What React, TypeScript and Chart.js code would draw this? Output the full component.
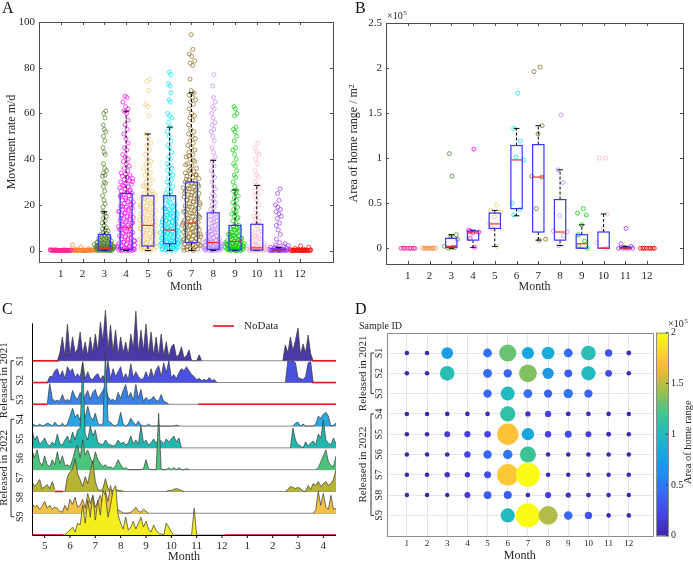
import React, { useEffect, useRef } from 'react';
import { Chart, registerables } from 'chart.js';
Chart.register(...registerables);

const FONT = "'Liberation Serif', 'Times New Roman', serif";
Chart.defaults.font.family = FONT;
Chart.defaults.color = '#262626';

const MONTHS = [1, 2, 3, 4, 5, 6, 7, 8, 9, 10, 11, 12];
const MONTH_COLORS = ['#ff1f8f', '#ff7f27', '#4e7d22', '#ff00ff', '#f7c46c', '#00e5ff', '#8c6a1f', '#c587ff', '#00d000', '#ffb3c6', '#9b30ff', '#ff0000'];

// ---------- Panel A: movement rate (m/d) per month ----------
const A_M1 = [0, 0, 0, 0, 0, 0, 0.1, 0.1, 0.1, 0.2, 0.2, 0.2, 0.3, 0.3, 0.4, 0.1, 0, 0.2, 0.1, 0, 0.3, 0.2, 0, 0.1, 0, 0.1, 0.2, 0, 0.1, 0, 0.2, 0.1, 0, 0.3, 0.1, 0];
const A_M2 = [0, 0, 0, 0.1, 0.1, 0.2, 0.2, 0.3, 0.3, 0.5, 0.8, 1.5, 2.5, 0, 0.1, 0.2, 0.1, 0, 0.4, 0.2, 0.1, 0, 0.1, 0.2, 0, 0.1, 0, 0.2, 0.1, 0, 0.3, 0];
const A_M3 = [0, 0, 0, 0.1, 0.1, 0.2, 0.2, 0.3, 0.3, 0.4, 0.4, 0.5, 0.5, 0.6, 0.7, 0.8, 0.9, 1, 1, 1.1, 1.2, 1.3, 1.4, 1.5, 1.6, 1.7, 1.8, 1.9, 2, 2.1, 2.2, 2.4, 2.5, 2.6, 2.8, 3, 3.1, 3.3, 3.5, 3.7, 3.9, 4.1, 4.3, 4.5, 4.8, 5, 5.3, 5.6, 6, 6.3, 6.7, 7, 7.5, 8, 8.5, 9, 9.5, 10, 11, 12, 13, 14, 15, 16, 17, 0.05, 0.15, 0.25, 0.35, 0.45, 0.65, 0.85, 1.05, 1.25, 1.45, 1.65, 1.85, 2.3, 2.7, 3.2, 3.6, 4.2, 4.7, 5.5, 6.5, 19, 20.5, 22, 24, 26, 28, 29.5, 30, 32.5, 33, 34, 35, 36, 38, 42, 43, 45, 48, 50, 52, 53, 55, 58, 60, 61];
const A_M4 = [0, 0, 0, 0.1, 0.2, 0.3, 0.4, 0.5, 0.6, 0.8, 1, 1.2, 1.5, 1.8, 2, 2.3, 2.6, 3, 3.4, 3.8, 4.2, 4.6, 5, 5.5, 6, 6.5, 7, 7.5, 8, 8.5, 9, 9.5, 10, 10.5, 11, 11.5, 12, 12.5, 13, 13.5, 14, 14.5, 15, 15.5, 16, 16.5, 17, 17.5, 18, 18.5, 19, 19.5, 20, 20.5, 21, 21.5, 22, 22.5, 23, 23.5, 24, 24.5, 25, 25.5, 26, 26.5, 27, 27.5, 28, 28.5, 29, 29.5, 30, 30.5, 31, 31.5, 32, 32.5, 33, 33.5, 34, 35, 36, 37, 38, 39, 40, 41, 42, 44, 45, 47, 49, 51, 53, 55, 57, 60, 61, 62, 63, 65, 67, 67.5, 0.7, 1.3, 2.1, 2.8, 3.6, 4.4, 5.2, 6.3, 7.2, 8.2, 9.2, 10.2, 11.2, 12.2, 13.2, 14.2, 15.2, 16.2, 17.2, 18.2, 19.2, 20.2, 22.2, 24.2, 26.2, 28.2, 30.2, 32.2];
const A_M5 = [0, 0.2, 0.4, 0.6, 0.8, 1, 1.3, 1.6, 2, 2.3, 2.6, 3, 3.4, 3.8, 4.2, 4.6, 5, 5.5, 6, 6.5, 7, 7.5, 8, 8.5, 9, 9.5, 10, 10.5, 11, 11.5, 12, 12.5, 13, 13.5, 14, 14.5, 15, 15.5, 16, 16.5, 17, 17.5, 18, 18.5, 19, 19.5, 20, 20.5, 21, 21.5, 22, 22.5, 23, 23.5, 24, 24.5, 25, 26, 27, 28, 29, 30, 31, 32, 33, 34, 35, 36, 37, 38, 39, 40, 42, 44, 46, 47, 49, 51, 59, 63, 64, 70, 74, 75, 0.5, 1.5, 2.5, 3.5, 4.5, 5.8, 6.8, 7.8, 8.8, 9.8, 10.8, 11.8, 12.8, 13.8, 14.8, 16.2, 17.8, 19.2, 20.8, 22.8, 24.8, 26.5, 28.5];
const A_M6 = [0, 0.2, 0.4, 0.6, 0.8, 1, 1.2, 1.4, 1.6, 1.8, 2, 2.2, 2.4, 2.6, 2.8, 3, 3.2, 3.4, 3.6, 3.8, 4, 4.3, 4.6, 4.9, 5.2, 5.5, 5.8, 6.1, 6.4, 6.7, 7, 7.3, 7.6, 7.9, 8.2, 8.5, 8.8, 9.1, 9.4, 9.7, 10, 10.4, 10.8, 11.2, 11.6, 12, 12.4, 12.8, 13.2, 13.6, 14, 14.5, 15, 15.5, 16, 16.5, 17, 17.5, 18, 18.5, 19, 19.5, 20, 21, 22, 23, 24, 25, 26, 27, 28, 29, 30, 31, 32, 33, 34, 35, 36, 37, 38, 40, 41, 43, 45, 46, 48, 50, 52, 54, 56, 58, 59, 60, 65, 66, 69, 72, 73, 77, 78, 0.5, 1.5, 2.5, 3.5, 4.5, 5.5, 6.5, 7.5, 8.5, 9.5, 10.5, 11.5, 12.5, 13.5, 14.5, 15.5, 16.5, 17.5, 18.5, 19.5, 21.5, 23.5, 25.5, 0.3, 1.1, 2.1, 3.1, 4.1, 5.1, 6.1, 7.1, 8.1, 9.1, 10.1, 11.1, 12.1, 13.1, 14.1, 16.1, 18.1];
const A_M7 = [0, 0.3, 0.6, 0.9, 1.2, 1.5, 1.8, 2.1, 2.4, 2.7, 3, 3.3, 3.6, 3.9, 4.2, 4.5, 4.8, 5.1, 5.4, 5.7, 6, 6.4, 6.8, 7.2, 7.6, 8, 8.4, 8.8, 9.2, 9.6, 10, 10.4, 10.8, 11.2, 11.6, 12, 12.4, 12.8, 13.2, 13.6, 14, 14.5, 15, 15.5, 16, 16.5, 17, 17.5, 18, 18.5, 19, 19.5, 20, 20.5, 21, 21.5, 22, 22.5, 23, 23.5, 24, 24.5, 25, 25.5, 26, 26.5, 27, 27.5, 28, 28.5, 29, 29.5, 30, 30.5, 31, 31.5, 32, 32.5, 33, 33.5, 34, 34.5, 35, 36, 37, 38, 39, 40, 41, 42, 43, 44, 45, 46, 47, 48, 49, 50, 51, 52, 53, 55, 57, 58, 59, 60, 62, 64, 65, 66, 67, 68, 69, 70, 75, 81, 82, 83, 85, 86, 88, 94.5, 0.1, 0.8, 1.6, 2.5, 3.4, 4.4, 5.3, 6.2, 7.1, 8.1, 9.1, 10.1, 11.1, 12.1, 13.1, 14.2, 15.2, 16.2, 17.2, 18.2, 19.2, 20.2, 21.2, 22.2, 23.2, 24.2, 25.2, 26.2, 27.2, 28.2, 29.2, 31.2, 33.2, 35.5, 37.5, 39.5, 41.5];
const A_M8 = [0, 0, 0.1, 0.2, 0.3, 0.4, 0.5, 0.6, 0.7, 0.8, 0.9, 1, 1.2, 1.4, 1.6, 1.8, 2, 2.2, 2.4, 2.6, 2.8, 3, 3.3, 3.6, 3.9, 4.2, 4.5, 4.8, 5.1, 5.5, 6, 6.5, 7, 7.5, 8, 8.5, 9, 9.5, 10, 11, 12, 13, 14, 15, 16, 17, 18, 19, 20, 21, 22, 23, 24, 25, 27, 28, 30, 32, 33, 35, 37, 39, 41, 43, 45, 48, 50, 52, 53, 55, 56, 58, 60, 62, 63, 65, 67, 72, 77, 0.15, 0.45, 0.75, 1.1, 1.5, 1.9, 2.3, 2.7, 3.2, 3.8, 4.4, 5.3, 6.3, 7.3, 8.3, 9.3, 10.5, 11.5, 12.5, 13.5, 14.5, 0.05, 0.35, 0.65, 1.3, 2.1, 3.5, 4.6];
const A_M9 = [0, 0, 0.1, 0.2, 0.3, 0.4, 0.5, 0.6, 0.8, 1, 1.2, 1.4, 1.6, 1.8, 2, 2.2, 2.4, 2.6, 2.8, 3, 3.2, 3.4, 3.6, 3.8, 4, 4.3, 4.6, 5, 5.3, 5.6, 6, 6.3, 6.6, 7, 7.5, 8, 8.5, 9, 9.5, 10, 10.5, 11, 12, 13, 14, 15, 16, 17, 18, 19, 20, 21, 22, 23, 24, 25, 26, 26.5, 28, 30, 32, 33, 35, 37, 38, 40, 42, 44, 45, 48, 50, 52, 53, 54, 59, 60, 62, 63, 0.15, 0.45, 0.7, 0.9, 1.1, 1.5, 1.9, 2.3, 2.7, 3.1, 3.5, 3.9, 4.5, 5.5, 6.5, 7.2, 8.2, 9.2, 10.2, 0.05, 0.35, 1.3, 2.1, 2.9, 4.8, 6.8, 14.5, 16.5];
const A_M10 = [0, 0, 0, 0.1, 0.1, 0.2, 0.2, 0.3, 0.4, 0.5, 0.6, 0.7, 0.8, 1, 1.2, 1.4, 1.6, 1.8, 2, 2.5, 3, 3.5, 4, 5, 6, 7, 8, 9, 10, 11, 12, 13, 14, 15, 16, 18, 20, 22, 24, 25, 26, 28, 28.5, 30, 32, 33, 35, 38, 40, 42, 43, 45, 47, 0.15, 0.35, 0.9, 1.3, 2.2, 2.8, 4.5, 5.5, 6.5, 8.5, 11.5];
const A_M11 = [0, 0, 0, 0, 0, 0.1, 0.1, 0.2, 0.2, 0.3, 0.3, 0.4, 0.5, 0.6, 0.8, 1, 1.2, 1.5, 2, 2.5, 3, 3.5, 5, 7, 9, 11, 12, 14, 15, 16, 17, 18, 19, 20, 22, 25, 27, 0.1, 0.3, 0.7, 1.4, 2.2, 0, 0.1, 0.2];
const A_M12 = [0, 0, 0, 0, 0, 0.1, 0.1, 0.2, 0.2, 0.3, 0.3, 0.4, 0.5, 0.6, 1, 1.5, 2, 0, 0.1, 0.2, 0.3, 0.2, 0.1, 0, 0, 0.1, 0, 0.2, 0.1, 0];
const A_VALUES = [A_M1, A_M2, A_M3, A_M4, A_M5, A_M6, A_M7, A_M8, A_M9, A_M10, A_M11, A_M12];
const A_Q1 = [0, 0, 0.3, 0.5, 2, 3, 3.5, 0.5, 0.3, 0.2, 0, 0];
const A_MED = [0, 0, 1, 10, 11, 9, 12, 3.5, 4, 1.2, 0.2, 0];
const A_Q3 = [0, 0, 7, 25, 24, 24, 30, 16.5, 11, 11.5, 0.6, 0];
const A_WHI = [0, 0, 17, 61, 51, 54, 69, 39.5, 26.5, 28.5, 1.4, 0];
const A_WLO = [0, 0, 0, 0, 0, 0, 0, 0, 0, 0, 0, 0];
const A_YTICKS = [0, 20, 40, 60, 80, 100];

// ---------- Panel B: home range area (x1e5 m^2) per month ----------
const B_M1 = [0, 0, 0, 0, 0, 0, 0, 0];
const B_M2 = [0, 0, 0, 0, 0, 0, 0];
const B_M3 = [0.8, 1.05, 0.15, 0.13, 0.02, 0.01, 0, 0.1, 0.01];
const B_M4 = [1.1, 0.2, 0.18, 0.17, 0.11, 0.01, 0.19];
const B_M5 = [0.48, 0.42, 0.4, 0.35, 0.27, 0.02, 0.22];
const B_M6 = [1.72, 1.33, 1.19, 1.01, 0.5, 0.43, 0.37, 0.98];
const B_M7 = [2.01, 1.96, 1.36, 1.27, 0.8, 0.79, 0.44, 0.1, 0.09];
const B_M8 = [1.48, 0.87, 0.73, 0.36, 0.19, 0.14, 0.03, 0.18];
const B_M9 = [0.44, 0.39, 0.37, 0.26, 0.15, 0.08, 0.03, 0];
const B_M10 = [1.0, 1.0, 0.38, 0.22, 0.06, 0];
const B_M11 = [0.22, 0.05, 0.02, 0.01, 0, 0, 0, 0, 0];
const B_M12 = [0, 0, 0, 0, 0, 0, 0, 0];
const B_VALUES = [B_M1, B_M2, B_M3, B_M4, B_M5, B_M6, B_M7, B_M8, B_M9, B_M10, B_M11, B_M12];
const B_Q1 = [0, 0, 0.01, 0.09, 0.22, 0.44, 0.18, 0.09, 0, 0, 0, 0];
const B_MED = [0, 0, 0.02, 0.17, 0.27, 0.98, 0.79, 0.18, 0.05, 0, 0, 0];
const B_Q3 = [0, 0, 0.11, 0.19, 0.39, 1.14, 1.15, 0.54, 0.15, 0.18, 0.01, 0];
const B_WHI = [0, 0, 0.15, 0.2, 0.42, 1.33, 1.36, 0.87, 0.26, 0.38, 0.02, 0];
const B_WLO = [0, 0, 0, 0.01, 0.02, 0.36, 0.09, 0.03, 0, 0, 0, 0];
const B_YTICKS = [0, 0.5, 1, 1.5, 2, 2.5];

// ---------- Panel C: daily movement per individual (step 0.1 month) ----------
const C_STEP = 0.1;
const C_ROW = 22; // rate units per row height
const C_NAMES = ['S1', 'S2', 'S3', 'S4', 'S5', 'S6', 'S7', 'S8', 'S9'];
const C_COLORS = ['#4a38a8', '#4a50e0', '#3a82e8', '#2aa6e0', '#22b8b0', '#4cc47c', '#b8b532', '#f3c143', '#f4ee1e'];
const C_TICKS = [5, 6, 7, 8, 9, 10, 11, 12, 13, 14, 15, 16];
const S1_A = [0, 8, 24, 5, 37, 6, 24, 8, 12, 29, 7, 19, 5, 24, 8, 27, 10, 39, 20, 51, 12, 36, 9, 31, 6, 24, 8, 19, 6, 27, 12, 50, 8, 31, 10, 37, 7, 29, 6, 24, 5, 27, 5, 19, 4, 14, 17, 4, 6, 14, 3, 5, 11, 0, 0, 0, 6, 0];
const S1_B = [0, 16, 8, 24, 10, 21, 33, 6, 17, 8, 26, 7, 0];
const S2_A = [0, 6, 6, 12, 14, 6, 12, 4, 16, 11, 14, 5, 9, 5, 21, 4, 11, 4, 3, 7, 9, 3, 7, 3, 22, 4, 14, 6, 11, 16, 4, 9, 3, 19, 5, 11, 6, 3, 4, 11, 4, 14, 5, 13, 17, 6, 20, 10, 22, 5, 8, 4, 10, 14, 12, 16, 12, 8, 6, 3, 4, 2, 3, 2, 5, 2, 3, 0];
const S2_B = [0, 22, 21, 22, 20, 5, 4, 3, 6, 20, 21, 0];
const S3_A = [0, 21, 6, 3, 4, 3, 10, 3, 5, 3, 14, 8, 5, 12, 6, 9, 14, 5, 12, 15, 6, 10, 14, 19, 8, 4, 5, 3, 12, 6, 14, 20, 7, 12, 4, 20, 6, 15, 3, 7, 4, 5, 8, 4, 3, 10, 3, 2, 0];
const S4_A = [3, 1, 0, 2, 0, 1, 3, 2, 0, 4, 1, 0, 3, 0, 2, 10, 18, 9, 12, 6, 15, 9, 20, 10, 6, 13, 3, 1, 2, 75, 5, 4, 1, 0, 3, 14, 2, 0, 2, 8, 4, 1, 5, 1, 0, 0, 2, 0, 0, 0, 1, 0, 0, 0, 0, 0, 0, 1, 0];
const S4_B = [0, 3, 4, 0, 2, 0, 0, 0, 0, 2, 10, 8, 12, 14, 10, 0, 1, 3];
const S5_A = [18, 8, 12, 4, 6, 10, 4, 2, 6, 3, 14, 4, 3, 8, 12, 5, 16, 8, 18, 20, 85, 14, 8, 22, 12, 18, 5, 4, 3, 8, 4, 3, 2, 3, 8, 4, 6, 3, 5, 12, 4, 8, 4, 22, 5, 8, 3, 5, 9, 5, 8, 7, 4, 9, 6, 9, 12, 6, 10, 0];
const S5_B = [0, 20, 8, 3, 2, 0, 6, 2, 5, 7, 3, 14, 10, 28, 8, 5, 3, 10, 4];
const S6_A = [20, 12, 20, 8, 4, 14, 5, 3, 10, 5, 18, 6, 14, 4, 5, 3, 10, 20, 25, 12, 30, 15, 20, 12, 6, 18, 10, 6, 3, 5, 2, 3, 1, 4, 10, 5, 1, 2, 0, 0, 0, 0, 0, 0, 1, 10, 1, 0, 0, 0, 57, 0, 0, 0, 2, 0, 2, 0, 2, 0, 0, 1, 0];
const S6_B = [0, 2, 8, 14, 20, 8, 4, 3, 14];
const S7_A = [10, 5, 8, 12, 3, 5, 7, 3, 10, 2];
const S7_B = [0, 15, 20, 22, 33, 18, 12, 5, 15, 8, 20, 31, 10, 2, 1, 3, 13, 3, 1, 1, 2, 1, 1, 0];
const S7_C = [0, 1, 1, 2, 3, 2, 1, 0];
const S7_D = [0, 2, 5, 4, 3, 4, 3, 0, 0, 6, 2, 8, 6, 10, 5, 8, 10, 6, 8, 12, 22];
const S8_A = [10, 6, 8, 4, 7, 12, 5, 8, 4, 6, 5, 2, 1, 8, 3, 14, 9, 16, 6, 8, 14, 5, 20, 10, 18, 6, 12, 18, 8, 22, 12, 28, 15, 8, 3, 2, 0, 0, 0, 1, 3, 6, 2, 1, 4, 2, 0];
const S8_B = [0, 3, 22, 8, 20, 6, 4, 18, 4, 5];
const S9_A = [0, 3, 5, 8, 3, 12, 10, 30, 12, 35, 18, 40, 15, 35, 20, 45, 40, 18, 30, 45, 50, 20, 12, 6, 18, 5, 8, 14, 6, 12, 18, 8, 14, 6, 3, 10, 5, 2, 1, 0, 12, 8, 3, 0];
const S9_B = [0, 27, 0];
const C_SEGMENTS = [
  [[5.5, S1_A], [14.4, S1_B]],
  [[5.1, S2_A], [14.5, S2_B]],
  [[5.1, S3_A]],
  [[4.5, S4_A], [14.8, S4_B]],
  [[4.5, S5_A], [14.7, S5_B]],
  [[4.5, S6_A], [15.7, S6_B]],
  [[4.5, S7_A], [5.8, S7_B], [9.8, S7_C], [14.5, S7_D]],
  [[4.5, S8_A], [15.6, S8_B]],
  [[5.8, S9_A], [10.8, S9_B]],
];
const C_NODATA = [
  [[4.5, 5.55], [15.55, 16.5]],
  [[4.5, 5.13], [15.55, 16.5]],
  [[4.5, 5.1], [11.07, 16.5]],
  [], [], [],
  [[5.4, 5.73]],
  [],
  [[4.5, 5.73], [12.12, 16.5]],
];

// ---------- Panel D: area of home range (x1e5) by sample and month ----------
const D_S1 = [0.02, 0.02, 0.75, null, 0.45, 1.3, 0.8, 0.85, 0.45, 1.05, 0.3, 0.05];
const D_S2 = [0.02, 0.02, 1.05, null, 0.45, 0.4, 1.36, 0.7, 0.35, 1.0, 0.25, 0.02];
const D_S3 = [null, null, null, null, 0.4, 0.98, 0.45, 0.4, 0.5, 0.4, null, null];
const D_S4 = [0.01, 0.01, 0.02, 0.02, 0.02, 1.1, 0.1, 0.2, 0.05, 0.03, 0.02, 0.01];
const D_S5 = [0.01, 0.02, 0.15, 0.18, 0.22, 1.72, 0.8, 0.2, 0.25, 0.15, 0.05, 0.01];
const D_S6 = [0.01, 0.01, 0.02, 0.2, 0.4, 0.5, 1.19, 0.03, 0.01, 0.02, 0.02, 0.01];
const D_S7 = [0.01, 0.02, 0.1, 0.1, 0.27, 1.75, 2.0, 0.02, 0.01, 0.02, 0.01, 0.02];
const D_S8 = [0.01, 0.01, 0.01, 0.17, 0.35, 0.37, 0.03, 0.19, 0.1, 0.05, 0.02, 0.01];
const D_S9 = [null, null, null, null, null, 1.0, 2.01, 1.48, 0.42, 0.3, 0.02, 0.02];
const D_ROWS = [D_S1, D_S2, D_S3, D_S4, D_S5, D_S6, D_S7, D_S8, D_S9];
const D_CB_TICKS = [0, 0.5, 1, 1.5, 2];

// ---------- helpers ----------
const PARULA = [[0, 62, 38, 168], [0.1, 71, 64, 230], [0.2, 56, 100, 248], [0.3, 35, 138, 240], [0.4, 24, 166, 222], [0.5, 33, 186, 190], [0.6, 64, 197, 146], [0.7, 146, 192, 84], [0.8, 228, 185, 58], [0.85, 252, 190, 60], [0.9, 249, 211, 45], [1, 249, 251, 21]];
function parula(t) {
  const u = Math.max(0, Math.min(1, t));
  for (let i = 1; i < PARULA.length; i++) {
    const a = PARULA[i - 1], b = PARULA[i];
    if (u <= b[0]) {
      const f = (u - a[0]) / (b[0] - a[0]);
      return `rgb(${Math.round(a[1] + f * (b[1] - a[1]))},${Math.round(a[2] + f * (b[2] - a[2]))},${Math.round(a[3] + f * (b[3] - a[3]))})`;
    }
  }
  return 'rgb(249,251,21)';
}
function jitter(j) { return (((j + 1) * 0.6180339887) % 1) - 0.5; }
// density-dependent horizontal spread (swarm-like), layout only
function swarm(vals, center, maxW, bw, minF) {
  const counts = vals.map((v) => vals.filter((u) => Math.abs(u - v) <= bw).length);
  const maxC = Math.max(...counts);
  return vals.map((v, j) => ({ x: center + jitter(j) * maxW * Math.max(minF, Math.pow(counts[j] / maxC, 0.6)), y: v }));
}
function setTicks(vals) { return (s) => { s.ticks = vals.map((v) => ({ value: v })); }; }
function rotText(ctx, text, x, y, size) {
  ctx.save(); ctx.translate(x, y); ctx.rotate(-Math.PI / 2);
  ctx.font = `${size}px ${FONT}`; ctx.textAlign = 'center'; ctx.textBaseline = 'middle';
  ctx.fillStyle = '#262626'; ctx.fillText(text, 0, 0); ctx.restore();
}
function sci(ctx, x, y, size) {
  ctx.save(); ctx.fillStyle = '#262626'; ctx.textAlign = 'left'; ctx.textBaseline = 'alphabetic';
  ctx.font = `${size}px ${FONT}`; ctx.fillText('×10', x, y);
  const w = ctx.measureText('×10').width;
  ctx.font = `${Math.round(size * 0.72)}px ${FONT}`; ctx.fillText('5', x + w + 0.5, y - size * 0.42);
  ctx.restore();
}
function letter(ctx, t, x, y) {
  ctx.save(); ctx.font = `16px ${FONT}`; ctx.fillStyle = '#111'; ctx.textAlign = 'left'; ctx.textBaseline = 'alphabetic';
  ctx.fillText(t, x, y); ctx.restore();
}
const numLabel = (v) => String(v);

function framePlugin(xt, yt, color, len) {
  return {
    id: 'frame',
    afterDraw(chart) {
      const { ctx, chartArea: a, scales } = chart;
      ctx.save(); ctx.strokeStyle = color; ctx.lineWidth = 1;
      ctx.strokeRect(Math.round(a.left) + 0.5, Math.round(a.top) + 0.5, Math.round(a.right - a.left), Math.round(a.bottom - a.top));
      ctx.beginPath();
      xt.forEach((v) => {
        const p = Math.round(scales.x.getPixelForValue(v)) + 0.5;
        ctx.moveTo(p, a.bottom); ctx.lineTo(p, a.bottom - len);
        ctx.moveTo(p, a.top); ctx.lineTo(p, a.top + len);
      });
      yt.forEach((v) => {
        const p = Math.round(scales.y.getPixelForValue(v)) + 0.5;
        ctx.moveTo(a.left, p); ctx.lineTo(a.left + len, p);
        ctx.moveTo(a.right, p); ctx.lineTo(a.right - len, p);
      });
      ctx.stroke(); ctx.restore();
    },
  };
}

function boxPlugin(q1, med, q3, whi, wlo, bw) {
  return {
    id: 'boxes',
    afterDatasetsDraw(chart) {
      const { ctx, scales: { x, y } } = chart;
      ctx.save();
      MONTHS.forEach((m, i) => {
        if (q3[i] <= 0 && whi[i] <= 0) return;
        const xl = x.getPixelForValue(m - bw / 2), xr = x.getPixelForValue(m + bw / 2), xc = x.getPixelForValue(m);
        const cw = (xr - xl) * 0.25;
        ctx.strokeStyle = '#000'; ctx.lineWidth = 1; ctx.setLineDash([3, 2]);
        ctx.beginPath();
        ctx.moveTo(xc, y.getPixelForValue(q3[i])); ctx.lineTo(xc, y.getPixelForValue(whi[i]));
        ctx.moveTo(xc, y.getPixelForValue(q1[i])); ctx.lineTo(xc, y.getPixelForValue(wlo[i]));
        ctx.stroke(); ctx.setLineDash([]);
        ctx.beginPath();
        ctx.moveTo(xc - cw, y.getPixelForValue(whi[i])); ctx.lineTo(xc + cw, y.getPixelForValue(whi[i]));
        ctx.moveTo(xc - cw, y.getPixelForValue(wlo[i])); ctx.lineTo(xc + cw, y.getPixelForValue(wlo[i]));
        ctx.stroke();
        ctx.strokeStyle = '#3535ff'; ctx.lineWidth = 1.2;
        const yt = y.getPixelForValue(q3[i]), yb = y.getPixelForValue(q1[i]);
        ctx.strokeRect(xl, yt, xr - xl, yb - yt);
        ctx.strokeStyle = '#ff2a2a'; ctx.lineWidth = 1.2;
        ctx.beginPath(); ctx.moveTo(xl, y.getPixelForValue(med[i])); ctx.lineTo(xr, y.getPixelForValue(med[i])); ctx.stroke();
      });
      ctx.restore();
    },
  };
}

const BASE_OPTS = {
  responsive: false, maintainAspectRatio: false, animation: false, devicePixelRatio: 1, events: [],
};

function cfgA() {
  return {
    type: 'scatter',
    data: {
      datasets: A_VALUES.map((vals, i) => ({
        data: swarm(vals, MONTHS[i], 1.0, 2.5, 0.1),
        pointRadius: 2, pointBorderWidth: 0.7, pointBorderColor: MONTH_COLORS[i], pointBackgroundColor: 'rgba(0,0,0,0)',
      })),
    },
    options: {
      ...BASE_OPTS,
      layout: { padding: { left: 0, right: 7, top: 22, bottom: 0 } },
      plugins: { legend: { display: false }, tooltip: { enabled: false } },
      scales: {
        x: {
          type: 'linear', min: 0, max: 13.5, afterBuildTicks: setTicks(MONTHS),
          ticks: { font: { size: 11 }, padding: 6, autoSkip: false, maxRotation: 0, callback: numLabel },
          grid: { display: false, drawTicks: false }, border: { display: false },
          title: { display: true, text: 'Month', font: { size: 12 }, padding: { top: 0, bottom: 1 } },
          afterFit: (s) => { s.height = 33; },
        },
        y: {
          type: 'linear', min: -5, max: 100, afterBuildTicks: setTicks(A_YTICKS),
          ticks: { font: { size: 11 }, padding: 4, callback: numLabel },
          grid: { display: false, drawTicks: false }, border: { display: false },
          title: { display: true, text: 'Movement rate m/d', font: { size: 12 }, padding: { top: 5, bottom: 0 } },
          afterFit: (s) => { s.width = 39; },
        },
      },
    },
    plugins: [boxPlugin(A_Q1, A_MED, A_Q3, A_WHI, A_WLO, 0.55), framePlugin(MONTHS, A_YTICKS, '#4d4d4d', 3),
      { id: 'lbl', afterDraw(c) { letter(c.ctx, 'A', 2, 13); } }],
  };
}

function cfgB() {
  return {
    type: 'scatter',
    data: {
      datasets: B_VALUES.map((vals, i) => ({
        data: swarm(vals, MONTHS[i], 0.75, 0.06, 0.35),
        pointRadius: 2, pointBorderWidth: 0.8, pointBorderColor: MONTH_COLORS[i], pointBackgroundColor: 'rgba(0,0,0,0)',
      })),
    },
    options: {
      ...BASE_OPTS,
      layout: { padding: { left: 0, right: 10, top: 23, bottom: 0 } },
      plugins: { legend: { display: false }, tooltip: { enabled: false } },
      scales: {
        x: {
          type: 'linear', min: 0, max: 13.65, afterBuildTicks: setTicks(MONTHS),
          ticks: { font: { size: 11 }, padding: 6, autoSkip: false, maxRotation: 0, callback: numLabel },
          grid: { display: false, drawTicks: false }, border: { display: false },
          title: { display: true, text: 'Month', font: { size: 12 }, padding: { top: 0, bottom: 1 } },
          afterFit: (s) => { s.height = 31; },
        },
        y: {
          type: 'linear', min: -0.175, max: 2.5, afterBuildTicks: setTicks(B_YTICKS),
          ticks: { font: { size: 11 }, padding: 4, callback: numLabel },
          grid: { display: false, drawTicks: false }, border: { display: false },
          title: { display: true, text: 'Area of home range / m²', font: { size: 12 }, padding: { top: 7, bottom: 0 } },
          afterFit: (s) => { s.width = 46; },
        },
      },
    },
    plugins: [boxPlugin(B_Q1, B_MED, B_Q3, B_WHI, B_WLO, 0.52), framePlugin(MONTHS, B_YTICKS, '#4d4d4d', 3),
      { id: 'lbl', afterDraw(c) { letter(c.ctx, 'B', 15, 13); sci(c.ctx, 47, 19, 10); } }],
  };
}

function cfgC() {
  const ds = [];
  C_NAMES.forEach((name, k) => {
    const base = 8 - k;
    ds.push({ data: [{ x: 4.5, y: base }, { x: 16.5, y: base }], borderColor: '#8a8a8a', borderWidth: 1, pointRadius: 0, fill: false });
    C_NODATA[k].forEach(([a, b]) => ds.push({ data: [{ x: a, y: base }, { x: b, y: base }], borderColor: '#e3141b', borderWidth: 1.6, pointRadius: 0, fill: false }));
    C_SEGMENTS[k].forEach(([start, vals]) => ds.push({
      data: vals.map((v, i) => ({ x: start + i * C_STEP, y: base + v / C_ROW })),
      fill: { value: base }, backgroundColor: C_COLORS[k], borderColor: '#3a3a3a', borderWidth: 0.7, pointRadius: 0, tension: 0,
    }));
  });
  ds.forEach((d, i) => { d.order = -i; });
  return {
    type: 'line',
    data: { datasets: ds },
    options: {
      ...BASE_OPTS,
      layout: { padding: { left: 32, right: 4, top: 15, bottom: 0 } },
      plugins: { legend: { display: false }, tooltip: { enabled: false } },
      scales: {
        x: {
          type: 'linear', min: 4.5, max: 16.5, afterBuildTicks: setTicks(C_TICKS),
          ticks: { font: { size: 11 }, padding: 5, autoSkip: false, maxRotation: 0, callback: (v) => String(((v - 1) % 12) + 1) },
          grid: { display: false, drawTicks: false }, border: { display: false },
          title: { display: true, text: 'Month', font: { size: 12 }, padding: { top: 0, bottom: 0 } },
          afterFit: (s) => { s.height = 29; },
        },
        y: { type: 'linear', min: 0, max: 10.56, display: false },
      },
    },
    plugins: [{
      id: 'cdeco',
      afterDraw(chart) {
        const { ctx, chartArea: a, scales: { x, y } } = chart;
        ctx.save();
        ctx.strokeStyle = '#000'; ctx.lineWidth = 1;
        ctx.beginPath();
        ctx.moveTo(a.left + 0.5, y.getPixelForValue(9.72)); ctx.lineTo(a.left + 0.5, y.getPixelForValue(0) + 0.5);
        ctx.lineTo(a.right, y.getPixelForValue(0) + 0.5);
        C_TICKS.forEach((v) => { const p = x.getPixelForValue(v); ctx.moveTo(p, y.getPixelForValue(0)); ctx.lineTo(p, y.getPixelForValue(0) + 3); });
        ctx.stroke();
        const row = y.getPixelForValue(0) - y.getPixelForValue(1);
        const y0 = y.getPixelForValue(8);
        const ly = (k) => y0 + k * 0.895 * row;
        C_NAMES.forEach((n, k) => rotText(ctx, n, 20, ly(k), 10));
        ctx.strokeStyle = '#333'; ctx.lineWidth = 1;
        [[0, 2], [3, 8]].forEach(([s, e]) => {
          ctx.beginPath();
          ctx.moveTo(14, ly(s)); ctx.lineTo(11, ly(s)); ctx.lineTo(11, ly(e)); ctx.lineTo(14, ly(e)); ctx.stroke();
        });
        rotText(ctx, 'Released in 2021', 4.5, (ly(0) + ly(2)) / 2, 11);
        rotText(ctx, 'Released in 2022', 4.5, (ly(3) + ly(8)) / 2, 11);
        ctx.strokeStyle = '#e3141b'; ctx.lineWidth = 1.6;
        ctx.beginPath(); ctx.moveTo(213, 36); ctx.lineTo(234, 36); ctx.stroke();
        ctx.fillStyle = '#262626'; ctx.font = `11px ${FONT}`; ctx.textAlign = 'left'; ctx.textBaseline = 'middle';
        ctx.fillText('NoData', 244, 36);
        letter(ctx, 'C', 2, 24);
        ctx.restore();
      },
    }],
  };
}

function cfgD() {
  const pts = [];
  D_ROWS.forEach((row, k) => row.forEach((v, m) => {
    if (v === null) return;
    pts.push({ x: MONTHS[m], y: k + 1, r: 2.2 + 4.9 * v, v });
  }));
  return {
    type: 'bubble',
    data: {
      datasets: [{
        data: pts, borderWidth: 0,
        backgroundColor: (c) => parula((c.raw ? c.raw.v : 0) / 2),
      }],
    },
    options: {
      ...BASE_OPTS,
      layout: { padding: { left: 0, right: 0, top: 42.7, bottom: 0 } },
      plugins: { legend: { display: false }, tooltip: { enabled: false } },
      scales: {
        x: {
          type: 'linear', min: 0, max: 13.2, afterBuildTicks: setTicks(MONTHS),
          ticks: { font: { size: 9 }, padding: 3, autoSkip: false, maxRotation: 0, callback: numLabel },
          grid: { display: true, color: '#e6e6e6', drawTicks: false }, border: { display: false },
          title: { display: true, text: 'Month', font: { size: 12 }, padding: { top: 0, bottom: 1 } },
          afterFit: (s) => { s.height = 28.3; },
        },
        y: {
          type: 'linear', min: 0, max: 10, reverse: true, afterBuildTicks: setTicks([1, 2, 3, 4, 5, 6, 7, 8, 9]),
          ticks: { display: false }, grid: { display: true, color: '#e6e6e6', drawTicks: false }, border: { display: false },
          afterFit: (s) => { s.width = 46.7; },
        },
        cb: {
          type: 'linear', position: 'right', min: 0, max: 2, afterBuildTicks: setTicks(D_CB_TICKS),
          ticks: { font: { size: 10 }, padding: 18, callback: numLabel }, grid: { display: false, drawTicks: false }, border: { display: false },
          afterFit: (s) => { s.width = 40; },
        },
      },
    },
    plugins: [{
      id: 'ddeco',
      afterDraw(chart) {
        const { ctx, chartArea: a, scales: { y, cb } } = chart;
        ctx.save();
        ctx.strokeStyle = '#8c8c8c'; ctx.lineWidth = 1;
        ctx.strokeRect(Math.round(a.left) + 0.5, Math.round(a.top) + 0.5, Math.round(a.right - a.left), Math.round(a.bottom - a.top));
        const bx = a.right + 3, bw = 12;
        const top = cb.getPixelForValue(2), bot = cb.getPixelForValue(0);
        const g = ctx.createLinearGradient(0, bot, 0, top);
        PARULA.forEach((p) => g.addColorStop(p[0], parula(p[0])));
        ctx.fillStyle = g; ctx.fillRect(bx, top, bw, bot - top);
        ctx.strokeStyle = '#8c8c8c'; ctx.strokeRect(bx + 0.5, top + 0.5, bw, bot - top);
        ctx.strokeStyle = '#333'; ctx.beginPath();
        D_CB_TICKS.forEach((v) => { const p = cb.getPixelForValue(v); ctx.moveTo(bx + bw, p); ctx.lineTo(bx + bw - 2, p); });
        ctx.stroke();
        sci(ctx, 328, 37, 10);
        rotText(ctx, 'Area of home range', 348, (top + bot) / 2 + 8, 10.5);
        MONTHS.slice(0, 9).forEach((_, k) => rotText(ctx, 'S' + (k + 1), 39, y.getPixelForValue(k + 1), 10));
        ctx.strokeStyle = '#333'; ctx.lineWidth = 1;
        [[1, 3], [4, 9]].forEach(([s, e]) => {
          ctx.beginPath();
          ctx.moveTo(34, y.getPixelForValue(s)); ctx.lineTo(31, y.getPixelForValue(s));
          ctx.lineTo(31, y.getPixelForValue(e)); ctx.lineTo(34, y.getPixelForValue(e)); ctx.stroke();
        });
        rotText(ctx, 'Released in 2021', 23, (y.getPixelForValue(1) + y.getPixelForValue(3)) / 2, 11);
        rotText(ctx, 'Released in 2022', 23, (y.getPixelForValue(4) + y.getPixelForValue(9)) / 2, 11);
        ctx.fillStyle = '#262626'; ctx.font = `10px ${FONT}`; ctx.textAlign = 'left'; ctx.textBaseline = 'middle';
        ctx.fillText('Sample ID', 19, 36);
        letter(ctx, 'D', 15, 24);
        ctx.restore();
      },
    }],
  };
}

export default function App() {
  const aRef = useRef(null), bRef = useRef(null), cRef = useRef(null), dRef = useRef(null);
  useEffect(() => {
    const charts = [
      new Chart(aRef.current, cfgA()),
      new Chart(bRef.current, cfgB()),
      new Chart(cRef.current, cfgC()),
      new Chart(dRef.current, cfgD()),
    ];
    return () => charts.forEach((c) => c.destroy());
  }, []);
  const st = (l, t, w, h) => ({ position: 'absolute', left: l, top: t, width: w, height: h });
  return (
    <div style={{ position: 'fixed', left: 0, top: 0, width: 693, height: 564, background: '#fff', overflow: 'hidden' }}>
      <canvas ref={aRef} width={340} height={295} style={st(0, 0, 340, 295)} />
      <canvas ref={bRef} width={353} height={295} style={st(340, 0, 353, 295)} />
      <canvas ref={cRef} width={340} height={274} style={st(0, 290, 340, 274)} />
      <canvas ref={dRef} width={353} height={274} style={st(340, 290, 353, 274)} />
    </div>
  );
}
